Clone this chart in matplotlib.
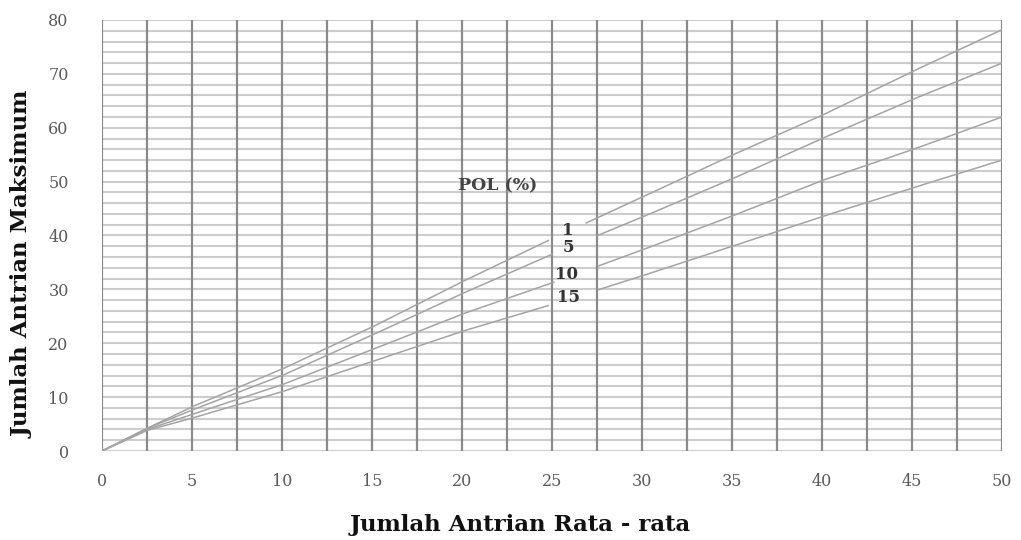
import numpy as np
import matplotlib
matplotlib.use("Agg")
import matplotlib.pyplot as plt

# Data
x_avg = [0, 2.5, 5, 10, 15, 20, 25, 30, 35, 40, 45, 50]
pol_labels = ["1", "5", "10", "15"]
q_max = {
    "1":  [0, 4.2, 8.2, 15.2, 23.0, 31.4, 39.4, 47.1, 54.9, 62.3, 70.4, 78.2],
    "5":  [0, 4.2, 7.6, 14.0, 21.5, 29.2, 36.5, 43.4, 50.5, 58.0, 65.2, 72.0],
    "10": [0, 4.0, 6.8, 12.3, 18.8, 25.4, 31.2, 37.3, 43.6, 50.2, 55.9, 62.0],
    "15": [0, 3.8, 6.1, 11.0, 16.6, 22.2, 27.2, 32.5, 38.0, 43.5, 48.8, 54.0],
}
gaps = {"1": (24.9, 26.9), "5": (25.0, 27.5), "10": (25.1, 27.6), "15": (24.8, 27.6)}
label_pos = {"1": (25.9, 41.0), "5": (25.9, 37.7), "10": (25.8, 32.7), "15": (25.9, 28.4)}

x_ticks = list(range(0, 51, 5))
y_ticks = list(range(0, 81, 10))

fig = plt.figure(figsize=(10.21, 5.40), dpi=100)
ax = fig.add_axes([0.0999, 0.1648, 0.8815, 0.7982])
ax.set_xlim(0, 50)
ax.set_ylim(0, 80)

# grid
for yv in np.arange(0, 80.1, 2):
    ax.axhline(yv, color="#cdcdcd", lw=1.5, zorder=1)
for xv in np.arange(0, 50.1, 2.5):
    ax.axvline(xv, color="#8a8a8a", lw=1.6, zorder=2)

# curves
xf = np.linspace(0, 50, 501)
for key in pol_labels:
    yf = np.interp(xf, x_avg, q_max[key])
    g0, g1 = gaps[key]
    yf = np.where((xf > g0) & (xf < g1), np.nan, yf)
    ax.plot(xf, yf, color="#a4a4a4", lw=1.1, zorder=3)
    lx, ly = label_pos[key]
    ax.text(lx, ly, key, ha="center", va="center", fontsize=12,
            family="DejaVu Serif", fontweight="bold", color="#333333", zorder=4)

ax.text(22.0, 49.2, "POL (%)", ha="center", va="center", fontsize=12.5,
        family="DejaVu Serif", fontweight="bold", color="#444444", zorder=4)

for s in ax.spines.values():
    s.set_visible(False)
ax.set_xticks(x_ticks)
ax.set_yticks(y_ticks)
ax.set_xticklabels([str(v) for v in x_ticks], family="DejaVu Serif", fontsize=11.5, color="#5a5a5a")
ax.set_yticklabels([str(v) for v in y_ticks], family="DejaVu Serif", fontsize=11.5, color="#5a5a5a")
ax.tick_params(axis="both", length=0)
ax.tick_params(axis="x", pad=16)
ax.tick_params(axis="y", pad=24)

fig.text(0.509, 0.028, "Jumlah Antrian Rata - rata", ha="center", va="center",
         fontsize=16.5, family="DejaVu Serif", fontweight="bold", color="#111111")
fig.text(0.022, 0.51, "Jumlah Antrian Maksimum", ha="center", va="center", rotation=90,
         fontsize=16.5, family="DejaVu Serif", fontweight="bold", color="#111111")

fig.savefig("out.png", dpi=100, facecolor="white")
